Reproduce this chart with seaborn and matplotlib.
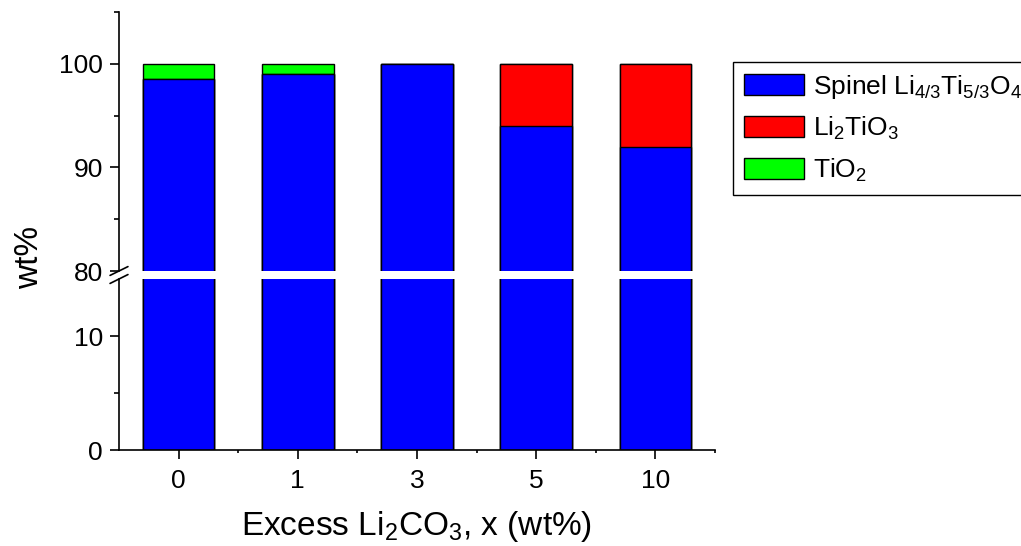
import numpy as np
import pandas as pd
import matplotlib
matplotlib.use("Agg")
import matplotlib.pyplot as plt
from matplotlib.patches import Patch
import seaborn as sns

# data
x_labels = ['0', '1', '3', '5', '10']
spinel = [98.5, 99.0, 100.0, 94.0, 92.0]
li2tio3 = [0.0, 0.0, 0.0, 6.0, 8.0]
tio2 = [1.5, 1.0, 0.0, 0.0, 0.0]

names = [r'Spinel Li$_{\mathregular{4/3}}$Ti$_{\mathregular{5/3}}$O$_{\mathregular{4}}$',
         r'Li$_{\mathregular{2}}$TiO$_{\mathregular{3}}$',
         r'TiO$_{\mathregular{2}}$']
colors = ['#0000FF', '#FF0000', '#00FF00']

sns.set_style('ticks')
plt.rcParams['font.family'] = ['Liberation Sans', 'DejaVu Sans']
plt.rcParams['mathtext.fontset'] = 'custom'
plt.rcParams['mathtext.rm'] = 'Liberation Sans'
plt.rcParams['mathtext.it'] = 'Liberation Sans:italic'
plt.rcParams['axes.linewidth'] = 1.2
for k in ['text.color', 'axes.labelcolor', 'axes.edgecolor', 'xtick.color', 'ytick.color']:
    plt.rcParams[k] = 'black'

df = pd.DataFrame({'x': x_labels, 'spinel': spinel, 'li2tio3': li2tio3, 'tio2': tio2})
df['red_top'] = df.spinel + df.li2tio3
df['green_top'] = df.red_top + df.tio2

fig = plt.figure(figsize=(10.21, 5.46), dpi=100)
ax_top = fig.add_axes([119/1021, 1-271/546, 596/1021, 259/546])
ax_bot = fig.add_axes([119/1021, 1-450/546, 596/1021, 171/546])

for ax in (ax_top, ax_bot):
    # cumulative totals drawn back to front -> stacked look
    for col, c in zip(['green_top', 'red_top', 'spinel'], colors[::-1]):
        sns.barplot(data=df, x='x', y=col, order=x_labels, color=c, saturation=1,
                    width=0.6, edgecolor='black', linewidth=1, errorbar=None, ax=ax)
    ax.set_xlabel('')
    ax.set_ylabel('')
    ax.set_xlim(-0.5, len(x_labels) - 0.5)
    ax.tick_params(axis='both', which='major', labelsize=19, length=6.5, width=1.2,
                   direction='out', colors='black')
    ax.tick_params(axis='y', which='minor', length=3.5, width=1.2, direction='out', colors='black')
    ax.tick_params(axis='y', which='major', pad=5)
    ax.spines['right'].set_visible(False)
    ax.spines['top'].set_visible(False)

ax_top.set_ylim(80, 105)
ax_top.set_yticks([80, 90, 100])
ax_top.set_yticks([85, 95, 105], minor=True)
ax_top.spines['bottom'].set_visible(False)
ax_top.tick_params(axis='x', which='both', bottom=False, labelbottom=False)

ax_bot.set_ylim(0, 15)
ax_bot.set_yticks([0, 10])
ax_bot.set_yticks([5], minor=True)
ax_bot.set_xticks(np.arange(len(x_labels)) + 0.5, minor=True)
ax_bot.tick_params(axis='x', which='minor', length=2, width=1.2, colors='black')
ax_bot.tick_params(axis='x', which='major', pad=7)

# break marks on the left spine
kw = dict(color='black', lw=1.2, clip_on=False)
ax_top.plot([-0.015, 0.015], [-0.017, 0.017], transform=ax_top.transAxes, **kw)
ax_bot.plot([-0.015, 0.015], [1 - 0.026, 1 + 0.026], transform=ax_bot.transAxes, **kw)

fig.text(30/1021, 1-257/546, 'wt%', rotation=90, fontsize=24, ha='center', va='center')
fig.text(417/1021, 1-535/546, r'Excess Li$_{\mathregular{2}}$CO$_{\mathregular{3}}$, x (wt%)',
         fontsize=24, ha='center', va='baseline')

handles = [Patch(facecolor=c, edgecolor='black', linewidth=1) for c in colors]
leg = fig.legend(handles, names, loc='upper left', bbox_to_anchor=(733/1021, 1-62/546),
                 fontsize=19, frameon=True, fancybox=False, edgecolor='black', framealpha=1,
                 handlelength=2.3, handleheight=0.85, borderpad=0.4, labelspacing=0.55,
                 handletextpad=0.35, borderaxespad=0)
leg.get_frame().set_linewidth(1)

fig.savefig('out.png', dpi=100)
